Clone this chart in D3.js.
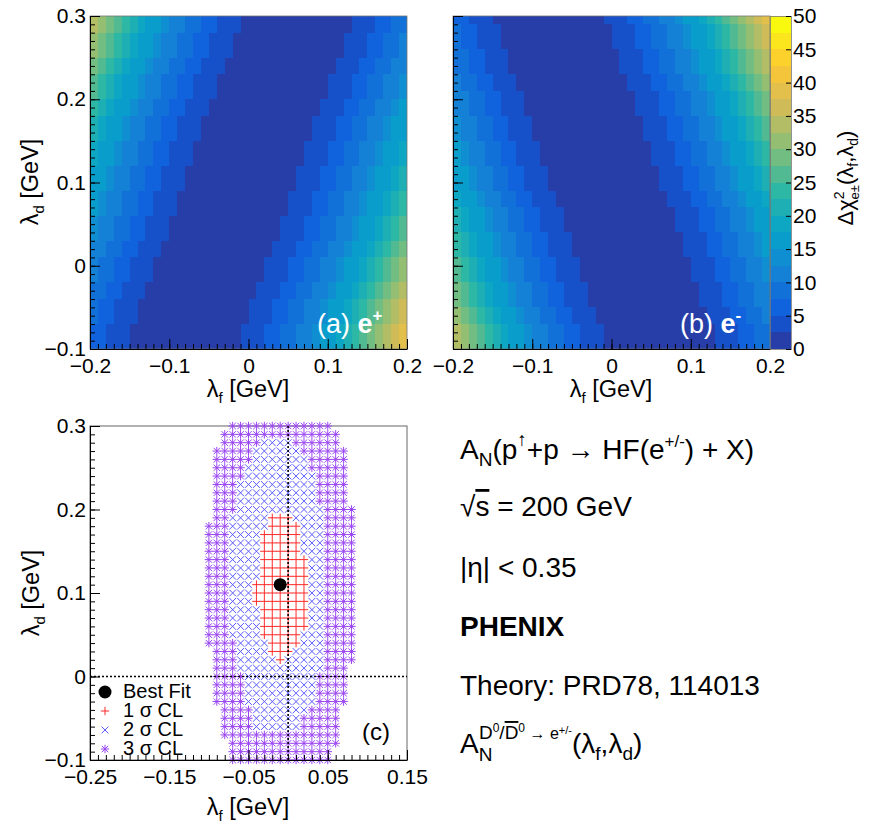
<!DOCTYPE html>
<html lang="en">
<head>
<meta charset="UTF-8">
<title>A_N lambda_f / lambda_d fit</title>
<style>
  body { margin: 0; background: #fff; }
  svg text { font-family: "Liberation Sans", Arial, Helvetica, sans-serif; white-space: pre; }
</style>
</head>
<body>
<svg width="875" height="823"></svg>
<script src="https://d3js.org/d3.v7.min.js"></script>
<script>
// ---------------- data ----------------
// contour level of each cell, base-20 digit: 0 -> [0,2.5), 1 -> [2.5,5) ... j -> [47.5,50)
// rows from lambda_d = 0.29..0.30 (top) down to -0.10..-0.09, 40 columns lambda_f = -0.20 .. 0.20
var chiPosRows = [
  "dcba987665443322111 00000000000000 1112233",
  "dcba987665443322111 00000000000000 1112233",
  "cba987665443322111 00000000000000 11122334",
  "cba987665443322111 00000000000000 11122334",
  "cba987665443322111 00000000000000 11122334",
  "ba987665443322111 00000000000000 111223344",
  "ba987665443322111 00000000000000 111223344",
  "a987665443322111 00000000000000 1112233445",
  "a987665443322111 00000000000000 1112233445",
  "a987665443322111 00000000000000 1112233445",
  "987665443322111 00000000000000 11122334456",
  "987665443322111 00000000000000 11122334456",
  "87665443322111 00000000000000 111223344566",
  "87665443322111 00000000000000 111223344566",
  "87665443322111 00000000000000 111223344566",
  "7665443322111 00000000000000 1112233445667",
  "7665443322111 00000000000000 1112233445667",
  "7665443322111 00000000000000 1112233445667",
  "665443322111 00000000000000 11122334456678",
  "665443322111 00000000000000 11122334456678",
  "665443322111 00000000000000 11122334456678",
  "65443322111 00000000000000 111223344566789",
  "65443322111 00000000000000 111223344566789",
  "65443322111 00000000000000 111223344566789",
  "5443322111 00000000000000 111223344566789a",
  "5443322111 00000000000000 111223344566789a",
  "5443322111 00000000000000 111223344566789a",
  "443322111 00000000000000 111223344566789ab",
  "443322111 00000000000000 111223344566789ab",
  "43322111 00000000000000 111223344566789abc",
  "43322111 00000000000000 111223344566789abc",
  "43322111 00000000000000 111223344566789abc",
  "3322111 00000000000000 111223344566789abcd",
  "3322111 00000000000000 111223344566789abcd",
  "322111 00000000000000 111223344566789abcde",
  "322111 00000000000000 111223344566789abcde",
  "322111 00000000000000 111223344566789abcde",
  "22111 00000000000000 111223344566789abcdef",
  "22111 00000000000000 111223344566789abcdef",
  "22111 00000000000000 111223344566789abcdef"
];
var chiNegRows = [
  "22111 00000000000000 111223344566789abcdef",
  "322111 00000000000000 111223344566789abcde",
  "322111 00000000000000 111223344566789abcde",
  "322111 00000000000000 111223344566789abcde",
  "3322111 00000000000000 111223344566789abcd",
  "3322111 00000000000000 111223344566789abcd",
  "3322111 00000000000000 111223344566789abcd",
  "43322111 00000000000000 111223344566789abc",
  "43322111 00000000000000 111223344566789abc",
  "443322111 00000000000000 111223344566789ab",
  "443322111 00000000000000 111223344566789ab",
  "443322111 00000000000000 111223344566789ab",
  "5443322111 00000000000000 111223344566789a",
  "5443322111 00000000000000 111223344566789a",
  "5443322111 00000000000000 111223344566789a",
  "65443322111 00000000000000 111223344566789",
  "65443322111 00000000000000 111223344566789",
  "65443322111 00000000000000 111223344566789",
  "665443322111 00000000000000 11122334456678",
  "665443322111 00000000000000 11122334456678",
  "665443322111 00000000000000 11122334456678",
  "7665443322111 00000000000000 1112233445667",
  "7665443322111 00000000000000 1112233445667",
  "87665443322111 00000000000000 111223344566",
  "87665443322111 00000000000000 111223344566",
  "87665443322111 00000000000000 111223344566",
  "987665443322111 00000000000000 11122334456",
  "987665443322111 00000000000000 11122334456",
  "987665443322111 00000000000000 11122334456",
  "a987665443322111 00000000000000 1112233445",
  "a987665443322111 00000000000000 1112233445",
  "a987665443322111 00000000000000 1112233445",
  "ba987665443322111 00000000000000 111223344",
  "ba987665443322111 00000000000000 111223344",
  "ba987665443322111 00000000000000 111223344",
  "cba987665443322111 00000000000000 11122334",
  "cba987665443322111 00000000000000 11122334",
  "dcba987665443322111 00000000000000 1112233",
  "dcba987665443322111 00000000000000 1112233",
  "dcba987665443322111 00000000000000 1112233"
];
var zContours = [0, 2.5, 5, 7.5, 10, 12.5, 15, 17.5, 20, 22.5, 25, 27.5, 30, 32.5, 35, 37.5, 40, 42.5, 45, 47.5, 50];
var zTicks = [0, 5, 10, 15, 20, 25, 30, 35, 40, 45, 50];
var xTicksAB = [-0.2, -0.1, 0, 0.1, 0.2];
var xTicksC = [-0.25, -0.15, -0.05, 0.05, 0.15];
var yTicks = [-0.1, 0, 0.1, 0.2, 0.3];

// confidence-level grid (panel c): lambda_d rows and lambda_f extent of each region
var clD = [0.30, 0.29, 0.28, 0.27, 0.26, 0.25, 0.24, 0.23, 0.22, 0.21, 0.20,
           0.19, 0.18, 0.17, 0.16, 0.15, 0.14, 0.13, 0.12, 0.11, 0.10,
           0.09, 0.08, 0.07, 0.06, 0.05, 0.04, 0.03, 0.02, 0.01, 0,
           -0.01, -0.02, -0.03, -0.04, -0.05, -0.06, -0.07, -0.08, -0.09, -0.10];
var cl3 = [[-0.07,0.05],[-0.08,0.06],[-0.08,0.06],[-0.09,0.07],[-0.09,0.07],[-0.09,0.07],[-0.09,0.07],[-0.09,0.07],[-0.09,0.07],[-0.09,0.07],[-0.09,0.08],
           [-0.09,0.08],[-0.10,0.08],[-0.10,0.08],[-0.10,0.08],[-0.10,0.08],[-0.10,0.08],[-0.10,0.08],[-0.10,0.08],[-0.10,0.08],[-0.10,0.08],
           [-0.10,0.08],[-0.10,0.08],[-0.10,0.08],[-0.10,0.08],[-0.10,0.08],[-0.10,0.08],[-0.09,0.08],[-0.09,0.08],[-0.09,0.07],[-0.09,0.07],
           [-0.09,0.07],[-0.09,0.07],[-0.09,0.07],[-0.08,0.06],[-0.08,0.06],[-0.08,0.06],[-0.08,0.06],[-0.07,0.06],[-0.07,0.05],[-0.07,0.05]];
var cl2 = [null, null, [-0.03,0.00],[-0.04,0.01],[-0.04,0.02],[-0.05,0.02],[-0.05,0.03],[-0.06,0.03],[-0.06,0.03],[-0.06,0.03],[-0.06,0.04],
           [-0.07,0.04],[-0.07,0.04],[-0.07,0.04],[-0.07,0.04],[-0.07,0.04],[-0.07,0.04],[-0.07,0.04],[-0.07,0.04],[-0.07,0.04],[-0.07,0.04],
           [-0.07,0.04],[-0.07,0.04],[-0.07,0.04],[-0.07,0.04],[-0.07,0.04],[-0.06,0.04],[-0.06,0.04],[-0.06,0.04],[-0.06,0.04],[-0.05,0.03],
           [-0.05,0.03],[-0.05,0.03],[-0.05,0.03],[-0.04,0.02],[-0.04,0.01],[-0.04,0.01], null, null, null, null];
var cl1 = [null, null, null, null, null, null, null, null, null, null, null,
           [-0.02,0.00],[-0.02,0.01],[-0.03,0.01],[-0.03,0.01],[-0.03,0.01],[-0.03,0.02],[-0.03,0.02],[-0.03,0.02],[-0.04,0.02],[-0.04,0.02],
           [-0.04,0.02],[-0.03,0.02],[-0.03,0.02],[-0.03,0.02],[-0.03,0.01],[-0.02,0.01],[-0.02,0.00],[-0.01,-0.01], null, null,
           null, null, null, null, null, null, null, null, null, null];
var bestFit = [-0.01, 0.11];
var legendLabels = ["Best Fit", "1 σ CL", "2 σ CL", "3 σ CL"];

// ---------------- setup ----------------
var svg = d3.select("svg");
var birdStops = [0, 0.125, 0.25, 0.375, 0.5, 0.625, 0.75, 0.875, 1];
var birdColors = ["rgb(53,42,135)", "rgb(15,92,221)", "rgb(20,129,214)", "rgb(6,164,202)", "rgb(46,183,164)",
                  "rgb(135,191,119)", "rgb(209,187,89)", "rgb(254,200,50)", "rgb(249,251,14)"];
var bird = d3.scaleLinear().domain(birdStops).range(birdColors).interpolate(d3.interpolateRgb);
function levelColor(k) {
    return bird(Math.floor((k + 0.99) * 255 / 20) / 255);
}

var xA = d3.scaleLinear().domain([-0.2, 0.2]).range([90, 407]);
var xB = d3.scaleLinear().domain([-0.2, 0.2]).range([453, 770]);
var yAB = d3.scaleLinear().domain([-0.1, 0.3]).range([349, 16]);
var xC = d3.scaleLinear().domain([-0.25, 0.15]).range([90, 407]);
var yC = d3.scaleLinear().domain([-0.1, 0.3]).range([760, 426]);
var zS = d3.scaleLinear().domain([0, 50]).range([349, 16]);

// text with sub/superscripts: parts = [{t, s (baseline shift), size, bold, dx, over}]
function rich(sel, parts) {
    var shift = 0;
    parts.forEach(function(p) {
        var s = p.s || 0;
        var ts = sel.append("tspan").text(p.t).attr("dy", s - shift);
        if (p.size) ts.attr("font-size", p.size);
        if (p.bold) ts.attr("font-weight", "bold");
        if (p.dx) ts.attr("dx", p.dx);
        if (p.over) ts.style("text-decoration", "overline");
        shift = s;
    });
    return sel;
}

function heatmap(rows, x, y) {
    var g = svg.append("g").attr("shape-rendering", "crispEdges");
    rows.forEach(function(row, r) {
        var s = row.replace(/ /g, "");
        var dTop = (30 - r) / 100, dBot = (29 - r) / 100;
        for (var c = 0; c < s.length; c++) {
            var f0 = (c - 20) / 100, f1 = (c - 19) / 100;
            g.append("rect")
                .attr("x", x(f0))
                .attr("y", y(dTop))
                .attr("width", x(f1) - x(f0))
                .attr("height", y(dBot) - y(dTop))
                .attr("fill", levelColor(parseInt(s[c], 20)));
        }
    });
}

function minorValues(scale) {
    var d = scale.domain();
    return d3.range(Math.round(d[0] * 100), Math.round(d[1] * 100) + 1).map(function(i) { return i / 100; });
}

function axes(x, y, xMajor, showYLabels) {
    var yb = y.range()[0], xl = x.range()[0];
    var fmt = d3.format("~g");
    var gx = svg.append("g").attr("transform", "translate(0," + yb + ")");
    gx.call(d3.axisBottom(x).tickValues(minorValues(x)).tickSizeInner(-5).tickSizeOuter(0).tickFormat(""));
    var gx2 = svg.append("g").attr("transform", "translate(0," + yb + ")");
    gx2.call(d3.axisBottom(x).tickValues(xMajor).tickSizeInner(-10).tickSizeOuter(0).tickPadding(9).tickFormat(fmt));
    gx2.select(".domain").remove();
    var gy = svg.append("g").attr("transform", "translate(" + xl + ",0)");
    gy.call(d3.axisLeft(y).tickValues(minorValues(y)).tickSizeInner(-5).tickSizeOuter(0).tickFormat(""));
    var gy2 = svg.append("g").attr("transform", "translate(" + xl + ",0)");
    gy2.call(d3.axisLeft(y).tickValues(yTicks).tickSizeInner(-10).tickSizeOuter(0).tickPadding(4)
        .tickFormat(showYLabels ? fmt : ""));
    gy2.select(".domain").remove();
    [gx, gx2, gy, gy2].forEach(function(g) {
        g.selectAll("text").attr("font-size", 21).attr("font-family", null).attr("fill", "#000");
        g.selectAll("line,path").attr("stroke", "#000");
    });
}

function xTitle(cx, y) {
    rich(svg.append("text").attr("x", cx).attr("y", y).attr("text-anchor", "middle").attr("font-size", 23.5),
        [{t: "λ"}, {t: "f", size: 15, s: 6}, {t: " [GeV]"}]);
}
function yTitle(x, cy) {
    rich(svg.append("text").attr("transform", "translate(" + x + "," + cy + ") rotate(-90)")
        .attr("text-anchor", "middle").attr("font-size", 23.5),
        [{t: "λ"}, {t: "d", size: 15, s: 6}, {t: " [GeV]"}]);
}

// ---------------- panels (a) and (b) ----------------
heatmap(chiPosRows, xA, yAB);
heatmap(chiNegRows, xB, yAB);
[xA, xB].forEach(function(x) {
    svg.append("rect").attr("x", x.range()[0]).attr("y", 16)
        .attr("width", x.range()[1] - x.range()[0]).attr("height", 333)
        .attr("fill", "none").attr("stroke", "#777").attr("stroke-width", 0.8);
});
axes(xA, yAB, xTicksAB, true);
axes(xB, yAB, xTicksAB, false);
xTitle(248, 397);
xTitle(611, 397);
yTitle(38, 182);

rich(svg.append("text").attr("x", 317).attr("y", 333).attr("font-size", 27).attr("fill", "#fff"),
    [{t: "(a) "}, {t: "e", bold: true}, {t: "+", bold: true, size: 17, s: -12}]);
rich(svg.append("text").attr("x", 680).attr("y", 333).attr("font-size", 27).attr("fill", "#fff"),
    [{t: "(b) "}, {t: "e", bold: true}, {t: "-", bold: true, size: 17, s: -12}]);

// colour bar
var cb = svg.append("g").attr("shape-rendering", "crispEdges");
d3.range(zContours.length - 1).forEach(function(i) {
    cb.append("rect")
        .attr("x", 770).attr("width", 21)
        .attr("y", zS(zContours[i + 1])).attr("height", zS(zContours[i]) - zS(zContours[i + 1]))
        .attr("fill", levelColor(i));
});
cb.append("rect").attr("x", 770).attr("y", 16).attr("width", 21).attr("height", 333)
    .attr("fill", "none").attr("stroke", "#777").attr("stroke-width", 0.8);
var gz = svg.append("g").attr("transform", "translate(791,0)");
gz.call(d3.axisRight(zS).tickValues(zTicks).tickSizeInner(-5).tickSizeOuter(0).tickPadding(2));
gz.select(".domain").remove();
gz.selectAll("text").attr("font-size", 21).attr("font-family", null).attr("fill", "#000");
gz.selectAll("line").attr("stroke", "#000");
rich(svg.append("text").attr("transform", "translate(853,178) rotate(-90)")
    .attr("text-anchor", "middle").attr("font-size", 22),
    [{t: "Δχ"}, {t: "2", size: 14, s: -9}, {t: "e±", size: 13, s: 6, dx: -8}, {t: "(λ"},
     {t: "f", size: 14, s: 5}, {t: ",λ"}, {t: "d", size: 14, s: 5}, {t: ")"}]);

// ---------------- panel (c) ----------------
var clPoints = [];
clD.forEach(function(d, i) {
    var lo = Math.round(cl3[i][0] * 100), hi = Math.round(cl3[i][1] * 100);
    function inside(r, f) { return r && f >= r[0] - 1e-9 && f <= r[1] + 1e-9; }
    for (var k = lo; k <= hi; k++) {
        var f = k / 100;
        clPoints.push({f: f, d: d, lvl: inside(cl1[i], f) ? 1 : inside(cl2[i], f) ? 2 : 3});
    }
});

function plusM(p, x, y) { var h = 4.2; p.moveTo(x - h, y); p.lineTo(x + h, y); p.moveTo(x, y - h); p.lineTo(x, y + h); }
function crossM(p, x, y) { var q = 3.4; p.moveTo(x - q, y - q); p.lineTo(x + q, y + q); p.moveTo(x - q, y + q); p.lineTo(x + q, y - q); }
function starM(p, x, y) { plusM(p, x, y); var q = 3.2; p.moveTo(x - q, y - q); p.lineTo(x + q, y + q); p.moveTo(x - q, y + q); p.lineTo(x + q, y - q); }
var markerShape = {1: plusM, 2: crossM, 3: starM};
var markerColor = {1: "#ff2a2a", 2: "#5a5aff", 3: "#9a45f2"};

svg.append("rect").attr("x", 90).attr("y", 426).attr("width", 317).attr("height", 334)
    .attr("fill", "none").attr("stroke", "#666").attr("stroke-width", 1);

[3, 2, 1].forEach(function(lvl) {
    var p = d3.path();
    clPoints.filter(function(q) { return q.lvl === lvl; })
        .forEach(function(q) { markerShape[lvl](p, xC(q.f), yC(q.d)); });
    svg.append("path").attr("d", p.toString()).attr("fill", "none")
        .attr("stroke", markerColor[lvl]).attr("stroke-width", 1);
});

axes(xC, yC, xTicksC, true);

svg.append("line").attr("x1", 90).attr("x2", 407).attr("y1", yC(0)).attr("y2", yC(0))
    .attr("stroke", "#000").attr("stroke-width", 1.6).attr("stroke-dasharray", "2,2");
svg.append("line").attr("x1", xC(0)).attr("x2", xC(0)).attr("y1", 426).attr("y2", 760)
    .attr("stroke", "#000").attr("stroke-width", 1.6).attr("stroke-dasharray", "2,2");
svg.append("circle").attr("cx", xC(bestFit[0])).attr("cy", yC(bestFit[1])).attr("r", 6.5).attr("fill", "#000");

xTitle(248, 815);
yTitle(39, 593);

// legend
legendLabels.forEach(function(label, i) {
    var y = 692 + i * 19;
    if (i === 0) {
        svg.append("circle").attr("cx", 105).attr("cy", y).attr("r", 6.5).attr("fill", "#000");
    } else {
        var p = d3.path();
        markerShape[i](p, 105, y);
        svg.append("path").attr("d", p.toString()).attr("stroke", markerColor[i]).attr("stroke-width", 1);
    }
    svg.append("text").attr("x", 123).attr("y", y + 6).attr("font-size", 20).text(label);
});
svg.append("text").attr("x", 362).attr("y", 740).attr("font-size", 24).text("(c)");

// ---------------- text block ----------------
var tx = 460;
rich(svg.append("text").attr("x", tx).attr("y", 459).attr("font-size", 28),
    [{t: "A"}, {t: "N", size: 19, s: 7}, {t: "(p"}, {t: "↑", size: 19, s: -13}, {t: "+p → HF(e"},
     {t: "+/-", size: 17, s: -12}, {t: ") + X)"}]);
rich(svg.append("text").attr("x", tx).attr("y", 516).attr("font-size", 28),
    [{t: "√"}, {t: "s", over: true}, {t: " = 200 GeV"}]);
svg.append("text").attr("x", tx).attr("y", 577).attr("font-size", 28).text("|η| < 0.35");
svg.append("text").attr("x", tx).attr("y", 636).attr("font-size", 28).attr("font-weight", "bold").text("PHENIX");
svg.append("text").attr("x", tx).attr("y", 695).attr("font-size", 28).text("Theory: PRD78, 114013");
rich(svg.append("text").attr("x", tx).attr("y", 753).attr("font-size", 28),
    [{t: "A"}, {t: "N", size: 19, s: 8}, {t: "D", size: 19, s: -14, dx: -13.5}, {t: "0", size: 12, s: -21},
     {t: "/", size: 19, s: -14}, {t: "D", size: 19, s: -14, over: true}, {t: "0", size: 12, s: -21},
     {t: " → e", size: 16, s: -14}, {t: "+/-", size: 11, s: -19}, {t: "(λ", s: 0},
     {t: "f", size: 19, s: 7}, {t: ",λ"}, {t: "d", size: 19, s: 7}, {t: ")"}]);
</script>
</body>
</html>
